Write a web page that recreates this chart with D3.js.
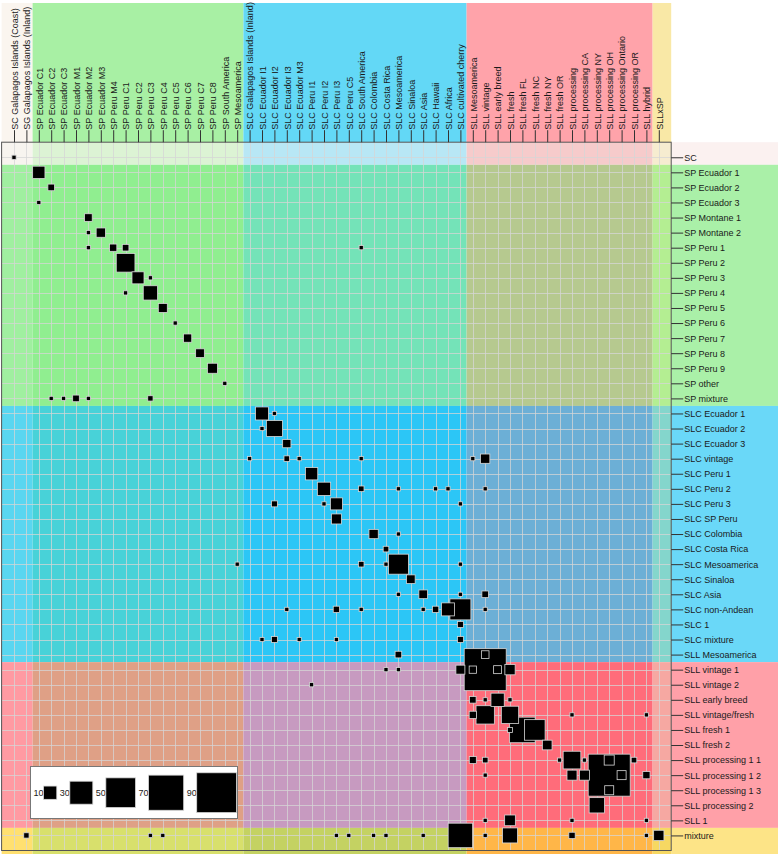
<!DOCTYPE html>
<html><head><meta charset="utf-8">
<script src="https://cdn.jsdelivr.net/npm/d3@7"></script>
<style>
body{margin:0;background:#fff}
text{font-family:"Liberation Sans",Arial,Helvetica,sans-serif;font-size:9px;fill:#1a1a1a}
</style>
</head><body>
<svg id="chart" width="778" height="854"></svg>
<script>
// ---------- data ----------
const colLabels = [
  "SC Galapagos Islands (Coast)","SG Galapagos Islands (Inland)",
  "SP Ecuador C1","SP Ecuador C2","SP Ecuador C3","SP Ecuador M1","SP Ecuador M2","SP Ecuador M3",
  "SP Peru M4","SP Peru C1","SP Peru C2","SP Peru C3","SP Peru C4","SP Peru C5","SP Peru C6",
  "SP Peru C7","SP Peru C8","SP South America","SP Mesoamerica",
  "SLC Galapagos Islands (Inland)","SLC Ecuador I1","SLC Ecuador I2","SLC Ecuador I3","SLC Ecuador M3",
  "SLC Peru I1","SLC Peru I2","SLC Peru I3","SLC Peru C5","SLC South America","SLC Colombia",
  "SLC Costa Rica","SLC Mesoamerica","SLC Sinaloa","SLC Asia","SLC Hawaii","SLC Africa",
  "SLC cultivated cherry",
  "SLL Mesoamerica","SLL vintage","SLL early breed","SLL fresh","SLL fresh FL","SLL fresh NC",
  "SLL fresh NY","SLL fresh OR","SLL processing","SLL processing CA","SLL processing NY",
  "SLL processing OH","SLL processing Ontario","SLL processing OR","SLL hybrid",
  "SLLxSP"
];
const rowLabels = [
  "SC",
  "SP Ecuador 1","SP Ecuador 2","SP Ecuador 3","SP Montane 1","SP Montane 2",
  "SP Peru 1","SP Peru 2","SP Peru 3","SP Peru 4","SP Peru 5","SP Peru 6","SP Peru 7",
  "SP Peru 8","SP Peru 9","SP other","SP mixture",
  "SLC Ecuador 1","SLC Ecuador 2","SLC Ecuador 3","SLC vintage","SLC Peru 1","SLC Peru 2",
  "SLC Peru 3","SLC SP Peru","SLC Colombia","SLC Costa Rica","SLC Mesoamerica","SLC Sinaloa",
  "SLC Asia","SLC non-Andean","SLC 1","SLC mixture","SLL Mesoamerica",
  "SLL vintage 1","SLL vintage 2","SLL early breed","SLL vintage/fresh","SLL fresh 1","SLL fresh 2",
  "SLL processing 1 1","SLL processing 1 2","SLL processing 1 3","SLL processing 2","SLL 1",
  "mixture"
];
// last column / row index (1-based) of each colour group
const colGroupEnds = [2, 19, 37, 52, 53];   // SC+SG, SP, SLC, SLL, SLLxSP
const rowGroupEnds = [1, 17, 34, 45, 46];   // SC, SP, SLC, SLL, mixture
// [column, row, value]
const cells = [
  [1,1,1],
  [3,2,8.6],[4,3,2.5],[3,4,1],[7,5,3.3],[7,6,1],[8,6,4.9],
  [7,7,1],[9,7,3],[10,7,2.5],[29,7,1],
  [10,8,19.8],[11,9,8.2],[12,9,1],[10,10,1],[12,10,11.6],[13,11,4.6],[14,12,1],
  [15,13,3.9],[16,14,4.3],[17,15,5.7],[18,16,1],
  [4,17,1],[5,17,1],[6,17,2.5],[7,17,1],[12,17,1.6],
  [21,18,9.6],[22,18,1],[21,19,1],[22,19,14.5],[23,20,3.9],
  [20,21,1],[23,21,1.8],[24,21,1],[29,21,1],[38,21,1],[39,21,4.9],
  [25,22,8.6],
  [26,23,10],[29,23,1.8],[32,23,1],[35,23,1],[36,23,1],[39,23,1],
  [22,24,2],[26,24,1],[27,24,8.2],[37,24,1],
  [27,25,5.7],[30,26,4.9],[32,26,1],[31,27,1.8],
  [19,28,1],[29,28,1.8],[31,28,1],[32,28,22.7],[37,28,1],
  [33,29,4.3],
  [32,30,1],[34,30,4.3],[37,30,1],[39,30,2.5],
  [23,31,1],[27,31,2.3],[29,31,1],[34,31,1],[35,31,2.3],[36,31,9.6],[37,31,25],[39,31,1],
  [37,32,2],
  [21,33,1],[22,33,2],[24,33,1],[27,33,1],[37,33,2],
  [32,34,2.5],[39,34,3.3],
  [31,35,1],[32,35,1],[37,35,4.6],[38,35,3],[39,35,100],[40,35,3.6],[41,35,6],
  [25,36,1],
  [38,37,2.5],[39,37,1],[40,37,10],[41,37,1],
  [38,38,3],[39,38,19],[41,38,17],[46,38,1],[52,38,1],
  [41,39,1.4],[42,39,37],[43,39,24],
  [44,40,5.3],
  [38,41,2.8],[39,41,1.8],[45,41,1],[46,41,17.7],[47,41,1],[49,41,5.7],[51,41,1.8],
  [39,42,1],[46,42,5.7],[47,42,5.7],[49,42,100],[50,42,4.6],[52,42,3],
  [49,43,4.6],
  [48,44,13.3],
  [39,45,1],[41,45,6.5],[46,45,1],[52,45,1],
  [2,46,1.6],[12,46,1],[13,46,1],[27,46,1],[28,46,1],[30,46,1],[31,46,1],[34,46,1],
  [37,46,34],[39,46,1],[41,46,12.8],[46,46,2.3],[52,46,1],[53,46,6]
];
const legendValues = [10, 30, 50, 70, 90];

// ---------- styles ----------
const topColors   = ["#faf5ef","#a8f0a4","#63d8f6","#ffa3aa","#f9e8a6"];
const rightColors = ["#fbf1f0","#aaf0a8","#6ad8f8","#ffa0a8","#fde487"];
const blockColors = [
  ["#f7f4ef","#dcf3d4","#b8e7f5","#f6cbcb","#f6ecd0"],
  ["#a0efa0","#90ee90","#74e3b8","#b6c98f","#b4ee92"],
  ["#5ad6f0","#48d2d8","#2cc6f6","#6cafd6","#84d6cc"],
  ["#ff9aa2","#dfa086","#c79ac0","#ff6c7a","#f6a8a2"],
  ["#ffe070","#d8e06c","#c4d262","#ffb648","#f6d862"]
];

// ---------- drawing ----------
const W = 778, H = 854;
const nC = colLabels.length, nR = rowLabels.length;
const svg = d3.select("#chart");
const x = d3.scaleLinear().domain([0, nC + 1]).range([1.6, 671.2]);
const y = d3.scaleLinear().domain([0, nR + 1]).range([142.2, 850.5]);
const side = d3.scaleSqrt().domain([0, 100]).range([0, 42]);

const spans = ends => ends.map((e, i) => [i === 0 ? 0 : ends[i-1] + 0.5,
                                          i === ends.length - 1 ? e + 1 : e + 0.5]);
const cSpans = spans(colGroupEnds), rSpans = spans(rowGroupEnds);

const bg = svg.append("g");
cSpans.forEach((s, i) => bg.append("rect")
  .attr("x", x(s[0])).attr("width", x(s[1]) - x(s[0]))
  .attr("y", 3).attr("height", y(0) - 3).attr("fill", topColors[i]));
rSpans.forEach((s, i) => bg.append("rect")
  .attr("x", x(nC + 1)).attr("width", W - x(nC + 1))
  .attr("y", y(s[0])).attr("height", (i === rSpans.length - 1 ? H : y(s[1])) - y(s[0]))
  .attr("fill", rightColors[i]));
rSpans.forEach((rs, i) => cSpans.forEach((cs, j) => bg.append("rect")
  .attr("x", x(cs[0])).attr("width", x(cs[1]) - x(cs[0]))
  .attr("y", y(rs[0])).attr("height", (i === rSpans.length - 1 ? H : y(rs[1])) - y(rs[0]))
  .attr("fill", blockColors[i][j])));

// grid
const grid = svg.append("g").attr("stroke", "#d6d6d6").attr("stroke-opacity", 0.75).attr("stroke-width", 1);
d3.range(1, nC + 1).forEach(c => grid.append("line")
  .attr("x1", Math.round(x(c)) + 0.5).attr("x2", Math.round(x(c)) + 0.5)
  .attr("y1", y(0)).attr("y2", y(nR + 1)));
d3.range(1, nR + 1).forEach(r => grid.append("line")
  .attr("y1", Math.round(y(r)) + 0.5).attr("y2", Math.round(y(r)) + 0.5)
  .attr("x1", x(0)).attr("x2", x(nC + 1)));

// box
svg.append("rect").attr("x", x(0)).attr("y", y(0))
  .attr("width", x(nC + 1) - x(0)).attr("height", y(nR + 1) - y(0))
  .attr("fill", "none").attr("stroke", "#555").attr("stroke-width", 1);

// top axis
const topAxis = d3.axisTop(x).tickValues(d3.range(1, nC + 1))
  .tickFormat(i => colLabels[i - 1]).tickSize(12).tickSizeOuter(0);
const gt = svg.append("g").attr("transform", `translate(0,${y(0)})`).call(topAxis);
gt.select(".domain").remove();
gt.selectAll(".tick line").attr("stroke", "#333");
gt.selectAll(".tick text").attr("transform", "rotate(-90)")
  .attr("x", 12.5).attr("y", 0).attr("dy", "0.36em").style("text-anchor", "start")
  .attr("fill", "#1a1a1a").style("font-size", "9px");

// right axis
const rightAxis = d3.axisRight(y).tickValues(d3.range(1, nR + 1))
  .tickFormat(i => rowLabels[i - 1]).tickSize(12).tickPadding(1).tickSizeOuter(0);
const gr = svg.append("g").attr("transform", `translate(${x(nC + 1)},0)`).call(rightAxis);
gr.select(".domain").remove();
gr.selectAll(".tick line").attr("stroke", "#333");
gr.selectAll(".tick text").attr("fill", "#1a1a1a").style("font-size", "9px");

// squares (largest first so small ones stay visible on top)
const sorted = cells.slice().sort((a, b) => b[2] - a[2]);
svg.append("g").selectAll("rect").data(sorted).join("rect")
  .attr("x", d => x(d[0]) - side(d[2]) / 2)
  .attr("y", d => y(d[1]) - side(d[2]) / 2)
  .attr("width", d => side(d[2])).attr("height", d => side(d[2]))
  .attr("fill", "#000").attr("stroke", "#d8d8d8").attr("stroke-width", 0.8);

// legend
const lg = svg.append("g");
lg.append("rect").attr("x", 30.5).attr("y", 766.5).attr("width", 207).attr("height", 52)
  .attr("fill", "#fff").attr("stroke", "#777").attr("stroke-width", 1);
const cy = 792.7;
let lx = 33.5;
legendValues.forEach(v => {
  const t = lg.append("text").attr("x", lx).attr("y", cy).attr("dy", "0.36em").text(v);
  const tw = t.node().getComputedTextLength();
  lx += tw;
  const s = side(v);
  lg.append("rect").attr("x", lx).attr("y", cy - s / 2).attr("width", s).attr("height", s)
    .attr("fill", "#000").attr("stroke", "#d8d8d8").attr("stroke-width", 0.8);
  lx += s + 3;
});
</script>
</body></html>
